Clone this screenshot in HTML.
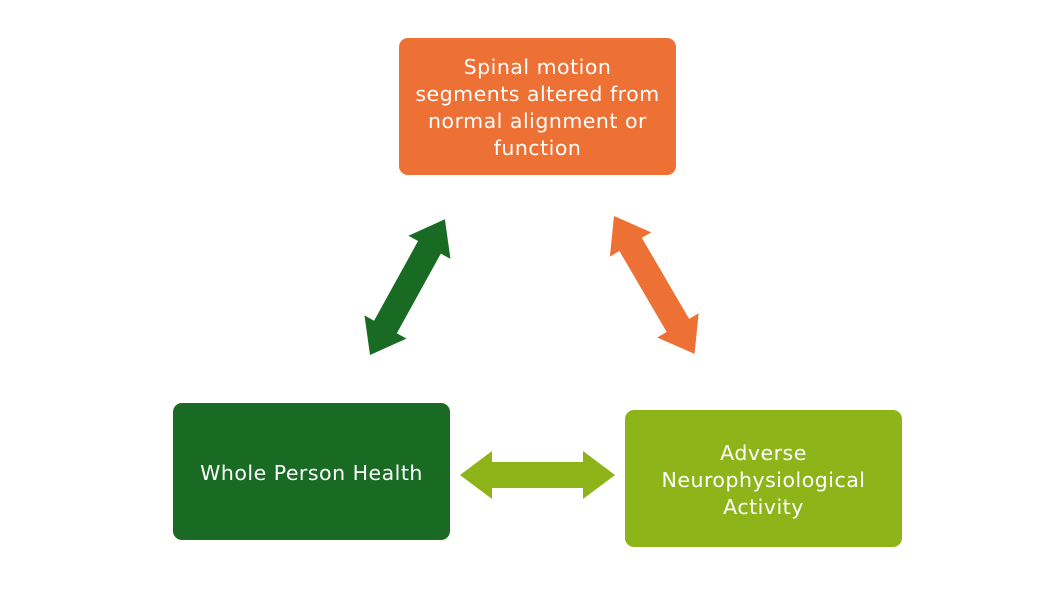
<!DOCTYPE html>
<html><head><style>
body{margin:0;width:1056px;height:594px;background:#fff;position:relative;overflow:hidden;font-family:"DejaVu Sans","Liberation Sans",sans-serif}
.b{position:absolute;width:277px;height:137px;border-radius:9px;color:#fff;font-size:20.5px;letter-spacing:0.5px;line-height:27px;display:flex;align-items:center;justify-content:center;text-align:center;box-sizing:border-box;padding-top:3px}
</style></head><body>
<div class="b" style="left:399px;top:38px;background:#ED7135">Spinal motion<br>segments altered from<br>normal alignment or<br>function</div>
<div class="b" style="left:173px;top:403px;background:#196B24">Whole Person Health</div>
<div class="b" style="left:625px;top:410px;background:#8DB51A">Adverse<br>Neurophysiological<br>Activity</div>
<svg width="1056" height="594" style="position:absolute;left:0;top:0">
<defs><polygon id="a" points="0,0 32,-24 32,-13 123,-13 123,-24 155,0 123,24 123,13 32,13 32,24"/></defs>
<use href="#a" fill="#8DB51A" transform="translate(460,475)"/>
<use href="#a" fill="#196B24" transform="translate(370,355) rotate(-61.1)"/>
<use href="#a" fill="#ED7135" transform="translate(614,216) rotate(59.7) scale(1.03,1)"/>
</svg>
</body></html>
